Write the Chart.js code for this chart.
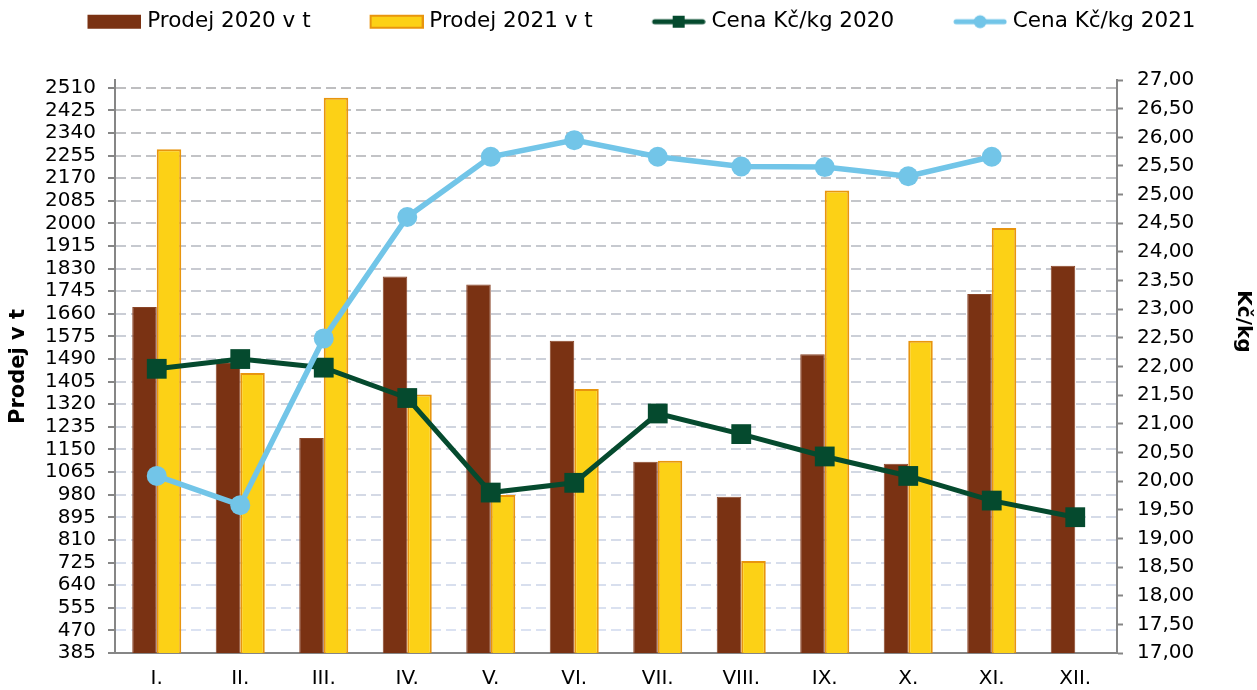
<!DOCTYPE html>
<html>
<head>
<meta charset="utf-8">
<script src="https://cdn.jsdelivr.net/npm/chart.js@4.4.1/dist/chart.umd.min.js"></script>
<style>
  html, body { margin: 0; padding: 0; background: #fff; }
</style>
</head>
<body>
<canvas id="chart" width="1257" height="690"></canvas>
<script>
const months = ['I.', 'II.', 'III.', 'IV.', 'V.', 'VI.', 'VII.', 'VIII.', 'IX.', 'X.', 'XI.', 'XII.']
const sales2020 = [1686, 1475, 1193, 1800, 1770, 1559, 1104, 972, 1508, 1096, 1735, 1841]
const sales2021 = [2279, 1438, 2472, 1357, 979, 1377, 1108, 731, 2124, 1559, 1983, null]
const price2020 = [21.96, 22.13, 21.98, 21.45, 19.80, 19.97, 21.18, 20.82, 20.43, 20.09, 19.66, 19.37]
const price2021 = [20.09, 19.58, 22.49, 24.61, 25.66, 25.95, 25.66, 25.49, 25.48, 25.32, 25.66, null]
const salesTicks = [385, 470, 555, 640, 725, 810, 895, 980, 1065, 1150, 1235, 1320, 1405,
  1490, 1575, 1660, 1745, 1830, 1915, 2000, 2085, 2170, 2255, 2340, 2425, 2510]

const BROWN = '#7A3213'
const YELLOW = '#FCD116'
const YELLOW_EDGE = '#E8950E'
const GREEN = '#054A2E'
const BLUE = '#72C5E8'
const AXIS = '#868686'
const FONT = 'DejaVu Sans'

Chart.defaults.font.family = FONT
Chart.defaults.color = '#000'

// legend samples: transparent lead-in so the sample sits close to its text
const SAMPLE_W = 97
function legendSample(draw) {
  const c = document.createElement('canvas')
  c.width = SAMPLE_W + 10
  c.height = 20
  const g = c.getContext('2d')
  draw(g, c.width - 54, 54, 10)
  return c
}
const samples = [
  legendSample((g, x, w, cy) => { g.fillStyle = BROWN; g.fillRect(x, cy - 7, w, 14) }),
  legendSample((g, x, w, cy) => {
    g.fillStyle = YELLOW; g.fillRect(x, cy - 7, w, 14)
    g.strokeStyle = YELLOW_EDGE; g.lineWidth = 2; g.strokeRect(x + 1, cy - 6, w - 2, 12)
  }),
  legendSample((g, x, w, cy) => {
    g.strokeStyle = GREEN; g.lineWidth = 5; g.lineCap = 'round'
    g.beginPath(); g.moveTo(x + 3, cy); g.lineTo(x + w - 3, cy); g.stroke()
    g.fillStyle = GREEN; g.fillRect(x + w / 2 - 6, cy - 6, 12, 12)
  }),
  legendSample((g, x, w, cy) => {
    g.strokeStyle = BLUE; g.lineWidth = 5; g.lineCap = 'round'
    g.beginPath(); g.moveTo(x + 3, cy); g.lineTo(x + w - 3, cy); g.stroke()
    g.fillStyle = BLUE; g.beginPath(); g.arc(x + w / 2, cy, 6.5, 0, Math.PI * 2); g.fill()
  })
]

// grid lines fade from grey at the top to pale blue at the bottom
function gridColor(ctx) {
  const v = ctx.tick ? ctx.tick.value : 385
  const t = (v - 385) / (2510 - 385)
  const lo = [220, 228, 244], hi = [190, 190, 192]
  const c = lo.map((l, i) => Math.round(l + (hi[i] - l) * t))
  return `rgb(${c[0]},${c[1]},${c[2]})`
}

// legend: fixed band height, nudged a little left; right axis title sits higher
const tweaks = {
  id: 'tweaks',
  beforeInit(chart) {
    const legend = chart.legend
    const fit = legend.fit
    legend.fit = function () {
      fit.call(this)
      this.height = 80
    }
    const draw = legend.draw
    legend.draw = function () {
      this.ctx.save()
      this.ctx.translate(-11, 0)
      draw.call(this)
      this.ctx.restore()
    }
  },
  beforeDraw(chart) {
    const s = chart.scales.y1
    if (s && !s._titleShifted) {
      const drawTitle = s.drawTitle
      s.drawTitle = function () {
        this.ctx.save()
        this.ctx.translate(0, -45)
        drawTitle.call(this)
        this.ctx.restore()
      }
      s._titleShifted = true
    }
  }
}

new Chart(document.getElementById('chart'), {
  type: 'bar',
  data: {
    labels: months,
    datasets: [
      {
        label: 'Prodej 2020 v t', data: sales2020, yAxisID: 'y', order: 2,
        backgroundColor: BROWN, borderColor: '#8A4528', borderWidth: 1,
        categoryPercentage: 0.587, barPercentage: 1
      },
      {
        label: 'Prodej 2021 v t', data: sales2021, yAxisID: 'y', order: 2,
        backgroundColor: YELLOW, borderColor: YELLOW_EDGE, borderWidth: 2,
        categoryPercentage: 0.587, barPercentage: 1
      },
      {
        type: 'line', label: 'Cena Kč/kg 2020', data: price2020, yAxisID: 'y1', order: 1,
        borderColor: GREEN, borderWidth: 5, tension: 0,
        pointStyle: 'rect', pointRadius: 14, pointBackgroundColor: GREEN, pointBorderWidth: 0
      },
      {
        type: 'line', label: 'Cena Kč/kg 2021', data: price2021, yAxisID: 'y1', order: 0,
        borderColor: BLUE, borderWidth: 5.5, tension: 0,
        pointStyle: 'circle', pointRadius: 10, pointBackgroundColor: BLUE, pointBorderWidth: 0
      }
    ]
  },
  options: {
    responsive: false,
    animation: false,
    devicePixelRatio: 1,
    layout: { padding: 0 },
    plugins: {
      tooltip: { enabled: false },
      legend: {
        position: 'top',
        labels: {
          font: { size: 21.5 },
          color: '#000',
          padding: 11,
          usePointStyle: true,
          pointStyleWidth: SAMPLE_W,
          generateLabels: chart => chart.data.datasets.map((ds, i) => ({
            text: ds.label, datasetIndex: i, pointStyle: samples[i],
            fillStyle: 'transparent', strokeStyle: 'transparent', lineWidth: 0, hidden: false
          }))
        }
      }
    },
    scales: {
      x: {
        grid: { display: false, drawTicks: false },
        border: { display: true, color: AXIS, width: 2 },
        ticks: { font: { size: 20 }, color: '#000', padding: 14 },
        afterFit: s => { s.height = 37 }
      },
      y: {
        position: 'left',
        min: 385, max: 2539,
        afterBuildTicks: s => { s.ticks = salesTicks.map(v => ({ value: v })) },
        afterFit: s => { s.width = 115 },
        ticks: { font: { size: 20 }, color: '#000', padding: 12, autoSkip: false, callback: v => String(v) },
        grid: {
          color: gridColor, lineWidth: 2,
          drawTicks: true, tickLength: 7, tickColor: AXIS, tickWidth: 2, tickBorderDash: []
        },
        border: { display: true, color: AXIS, width: 2, dash: [10, 5] },
        title: {
          display: true, text: 'Prodej v t', color: '#000',
          font: { size: 21, weight: 'bold' }, padding: { top: 6, bottom: 0 }
        }
      },
      y1: {
        position: 'right',
        min: 17, max: 27,
        afterFit: s => { s.width = 140 },
        ticks: {
          stepSize: 0.5, autoSkip: false, font: { size: 20 }, color: '#000', padding: 14,
          callback: v => v.toFixed(2).replace('.', ',')
        },
        grid: { drawOnChartArea: false, drawTicks: true, tickLength: 6, tickColor: AXIS, tickWidth: 2 },
        border: { display: true, color: AXIS, width: 2 },
        title: {
          display: true, text: 'Kč/kg', color: '#000',
          font: { size: 20, weight: 'bold' }, padding: { top: 2, bottom: 0 }
        }
      }
    }
  },
  plugins: [tweaks]
})
</script>
</body>
</html>
